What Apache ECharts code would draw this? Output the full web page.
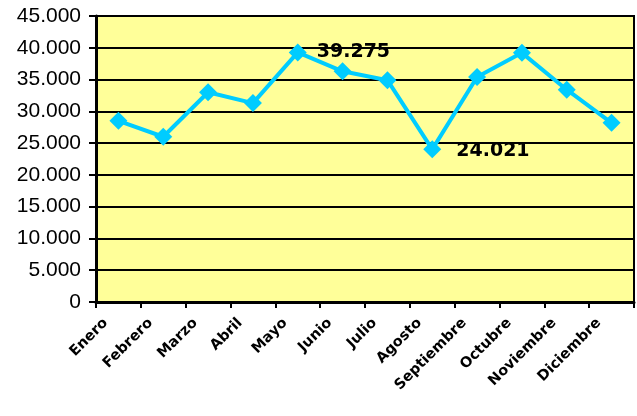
<!DOCTYPE html>
<html><head><meta charset="utf-8">
<script src="https://cdn.jsdelivr.net/npm/echarts@6/dist/echarts.min.js"></script>
<style>html,body{margin:0;padding:0;background:#fff}#c{width:637px;height:416px}</style>
</head><body><div id="c"></div>
<script>
const months = ['Enero','Febrero','Marzo','Abril','Mayo','Junio','Julio','Agosto','Septiembre','Octubre','Noviembre','Diciembre'];
const values = [28500, 26000, 33000, 31300, 39275, 36300, 34900, 24021, 35400, 39200, 33400, 28200];
const labelled = {4: 'right', 7: 'below'};
const fmt = v => String(v).replace(/\B(?=(\d{3})+(?!\d))/g, '.');

const chart = echarts.init(document.getElementById('c'), null, {renderer: 'canvas'});
chart.setOption({
  animation: false,
  grid: {left: 96, right: 3, top: 16, bottom: 114, show: true, backgroundColor: '#FFFF99', borderColor: '#000', borderWidth: 2},
  xAxis: {
    type: 'category', data: months, boundaryGap: true,
    axisLine: {lineStyle: {color: '#000', width: 3}},
    axisTick: {show: true, length: 6, lineStyle: {color: '#000', width: 2}},
    axisLabel: {rotate: 45, color: '#000', fontFamily: 'DejaVu Sans', fontWeight: 'bold', fontSize: 14.5, margin: 6, padding: [0, 18, 0, 0]}
  },
  yAxis: {
    type: 'value', min: 0, max: 45000, interval: 5000,
    axisLine: {show: true, lineStyle: {color: '#000', width: 3}},
    axisTick: {show: true, length: 7, lineStyle: {color: '#000', width: 2}},
    splitLine: {show: true, lineStyle: {color: '#000', width: 2}},
    axisLabel: {color: '#000', fontFamily: 'Liberation Sans', fontSize: 21, margin: 15, formatter: v => fmt(v)}
  },
  series: [{
    type: 'line',
    data: values.map((v, i) => {
      const d = {value: v};
      if (labelled[i] === 'right') {
        d.label = {show: true, position: 'right', offset: [5, 0]};
      } else if (labelled[i] === 'below') {
        d.label = {show: true, position: 'right', offset: [10, 2]};
      }
      return d;
    }),
    symbol: 'diamond', symbolSize: 18,
    lineStyle: {color: '#00CCFF', width: 4},
    itemStyle: {color: '#00CCFF'},
    label: {show: false, color: '#000', fontFamily: 'DejaVu Sans', fontWeight: 'bold', fontSize: 19, formatter: p => fmt(p.value)}
  }]
});
</script></body></html>
